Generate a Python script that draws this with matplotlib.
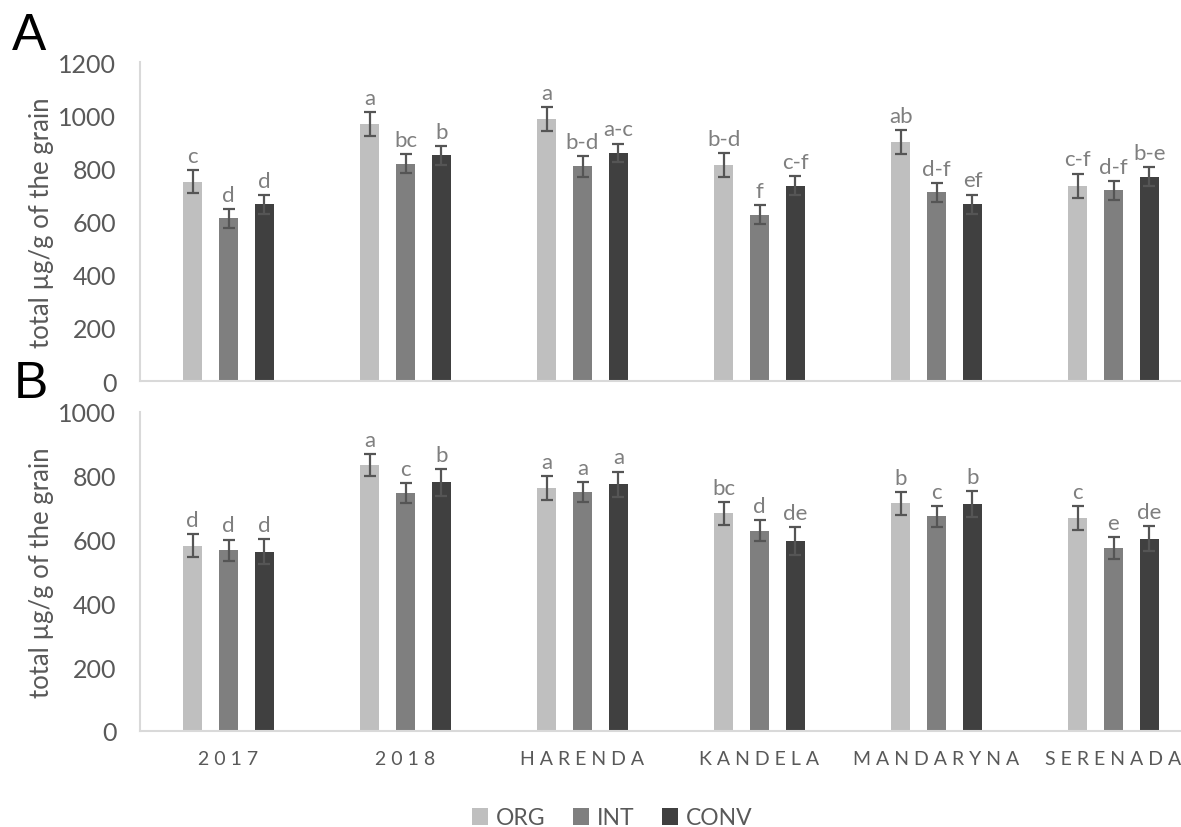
import numpy as np
import matplotlib
matplotlib.use("Agg")
import matplotlib.pyplot as plt

plt.rcParams['font.family'] = ['Lato', 'DejaVu Sans']

cats = ["2017", "2018", "HARENDA", "KANDELA", "MANDARYNA", "SERENADA"]
series = ["ORG", "INT", "CONV"]
colors = ["#bfbfbf", "#7f7f7f", "#404040"]

# panel A
a_org = [749, 966, 985, 813, 899, 735]
a_int = [612, 818, 808, 626, 710, 717]
a_conv = [665, 849, 858, 734, 665, 769]
a_err_org = [43, 45, 45, 44, 45, 45]
a_err_int = [36, 36, 39, 35, 36, 35]
a_err_conv = [35, 35, 35, 36, 36, 36]
a_let_org = ["c", "a", "a", "b-d", "ab", "c-f"]
a_let_int = ["d", "bc", "b-d", "f", "d-f", "d-f"]
a_let_conv = ["d", "b", "a-c", "c-f", "ef", "b-e"]

# panel B
b_org = [581, 833, 761, 682, 714, 668]
b_int = [567, 746, 749, 628, 673, 574]
b_conv = [562, 779, 773, 595, 712, 603]
b_err_org = [36, 35, 37, 35, 36, 37]
b_err_int = [33, 31, 32, 33, 33, 34]
b_err_conv = [40, 42, 40, 43, 40, 40]
b_let_org = ["d", "a", "a", "bc", "b", "c"]
b_let_int = ["d", "c", "a", "d", "c", "e"]
b_let_conv = ["d", "b", "a", "de", "b", "de"]

W, H = 1181, 828
fig = plt.figure(figsize=(W / 100, H / 100), dpi=100)

left = 140 / W
width = 1062 / W
axA = fig.add_axes([left, (H - 382) / H, width, 319 / H])
axB = fig.add_axes([left, (H - 732) / H, width, 319 / H])

x = np.arange(len(cats))
bw = 0.107
step = 0.203
grey_txt = "#595959"


def draw(ax, vals, errs, lets, ymax):
    for i, (v, e, l) in enumerate(zip(vals, errs, lets)):
        pos = x + (i - 1) * step
        ax.bar(pos, v, bw, color=colors[i], label=series[i], zorder=2)
        ax.errorbar(pos, v, yerr=e, fmt="none", ecolor="#555555",
                    elinewidth=1.6, capsize=4.6, capthick=1.6, zorder=3)
        for p, vv, ee, t in zip(pos, v, e, l):
            ax.annotate(t, (p, vv + ee), xytext=(0, 3), textcoords="offset points",
                        ha="center", va="bottom", fontsize=16, color="#7f7f7f")
    ax.set_xlim(-0.5, len(cats) - 0.5)
    ax.set_ylim(0, ymax)
    ax.set_yticks(np.arange(0, ymax + 1, 200))
    for s in ["top", "right"]:
        ax.spines[s].set_visible(False)
    for s in ["left", "bottom"]:
        ax.spines[s].set_color("#d9d9d9")
        ax.spines[s].set_linewidth(1.5)
    ax.tick_params(axis="y", length=0, pad=17, labelsize=18, labelcolor=grey_txt)
    ax.tick_params(axis="x", length=0, pad=14, labelsize=14, labelcolor=grey_txt)


draw(axA, [a_org, a_int, a_conv], [a_err_org, a_err_int, a_err_conv],
     [a_let_org, a_let_int, a_let_conv], 1200)
draw(axB, [b_org, b_int, b_conv], [b_err_org, b_err_int, b_err_conv],
     [b_let_org, b_let_int, b_let_conv], 1000)

axA.set_xticks(x)
axA.set_xticklabels([])
axB.set_xticks(x)
axB.set_xticklabels([" ".join(c) for c in cats])

for yc in [(63 + 382) / 2, (413 + 732) / 2]:
    fig.text(42 / W, 1 - yc / H, "total µg/g of the grain", rotation=90,
             ha="center", va="center", fontsize=18.5, color=grey_txt)

fig.text(12 / W, 1 - 37 / H, "A", fontsize=37, family="Liberation Sans",
         ha="left", va="center", color="black")
fig.text(14 / W, 1 - 384 / H, "B", fontsize=37, family="Liberation Sans",
         ha="left", va="center", color="black")

handles, labels = axA.get_legend_handles_labels()
fig.legend(handles, labels, loc="center", bbox_to_anchor=(612 / W, 1 - 819 / H),
           ncol=3, frameon=False, fontsize=16.5, handlelength=0.7, handleheight=0.7,
           handletextpad=0.35, columnspacing=1.2, labelcolor=grey_txt)

fig.savefig("out.png", dpi=100)
